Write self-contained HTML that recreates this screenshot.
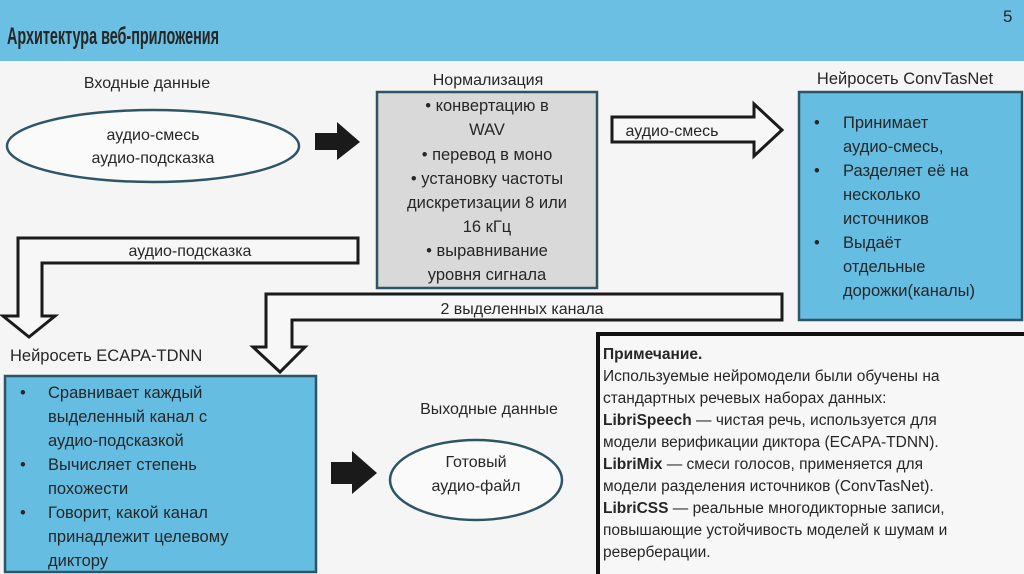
<!DOCTYPE html>
<html><head><meta charset="utf-8"><style>
html,body{margin:0;padding:0;width:1024px;height:574px;overflow:hidden;background:#f5f5f5}
svg{display:block}
text{font-family:"Liberation Sans","DejaVu Sans",sans-serif;fill:#262626}
</style></head><body>
<svg width="1024" height="574" viewBox="0 0 1024 574" xmlns="http://www.w3.org/2000/svg">
<rect x="0" y="0" width="1024" height="574" fill="#f5f5f5"/>
<rect x="0" y="0" width="1024" height="61" fill="#6bbfe3"/>
<text x="7" y="44" font-size="24" font-weight="bold" fill="#333" textLength="212" lengthAdjust="spacingAndGlyphs">Архитектура веб-приложения</text>
<text x="1003" y="22" font-size="17" fill="#333">5</text>

<!-- input -->
<text x="147" y="88" font-size="16" text-anchor="middle">Входные данные</text>
<ellipse cx="153" cy="146" rx="146" ry="36" fill="#fafafa" stroke="#2e5566" stroke-width="2.5"/>
<text x="153" y="140" font-size="16" text-anchor="middle">аудио-смесь</text>
<text x="153" y="163" font-size="16" text-anchor="middle">аудио-подсказка</text>

<!-- black arrow 1 -->
<polygon points="315,133 337,133 337,122 360,142 337,160 337,150 315,150" fill="#1a1a1a"/>

<!-- normalization -->
<text x="488" y="85" font-size="16" text-anchor="middle">Нормализация</text>
<rect x="377" y="92" width="220" height="196" fill="#d9d9d9" stroke="#2e5566" stroke-width="2.5"/>
<g font-size="16.5" text-anchor="middle">
<text x="487" y="111">• конвертацию в</text>
<text x="487" y="135">WAV</text>
<text x="487" y="160">• перевод в моно</text>
<text x="487" y="184">• установку частоты</text>
<text x="487" y="208">дискретизации 8 или</text>
<text x="487" y="232">16 кГц</text>
<text x="487" y="256">• выравнивание</text>
<text x="487" y="280">уровня сигнала</text>
</g>

<!-- hollow arrow audio-mix -->
<polygon points="612,117 754,117 754,104 782,130 754,156 754,142 612,142" fill="#f7f7f7" stroke="#1a1a1a" stroke-width="3"/>
<text x="672" y="136" font-size="16" text-anchor="middle">аудио-смесь</text>

<!-- ConvTasNet -->
<text x="905" y="84" font-size="16.5" text-anchor="middle">Нейросеть ConvTasNet</text>
<rect x="799" y="92" width="223" height="228" fill="#66bde2" stroke="#2e5566" stroke-width="2.5"/>
<g font-size="16.5">
<text x="814" y="128">•</text>
<text x="843" y="128">Принимает</text>
<text x="843" y="152">аудио-смесь,</text>
<text x="814" y="176">•</text>
<text x="843" y="176">Разделяет её на</text>
<text x="843" y="200">несколько</text>
<text x="843" y="224">источников</text>
<text x="814" y="248">•</text>
<text x="843" y="248">Выдаёт</text>
<text x="843" y="272">отдельные</text>
<text x="843" y="296">дорожки(каналы)</text>
</g>

<!-- hollow arrow audio-hint -->
<polygon points="18,238 358,238 358,263 42,263 42,316 55,316 29,337 3,316 18,316" fill="#f7f7f7" stroke="#1a1a1a" stroke-width="3"/>
<text x="190" y="256" font-size="16" text-anchor="middle">аудио-подсказка</text>

<!-- hollow arrow 2 channels -->
<polygon points="266,294 782,294 782,320 292,320 292,347 305,347 280,372 253,347 266,347" fill="#f7f7f7" stroke="#1a1a1a" stroke-width="3"/>
<text x="522" y="314" font-size="16" text-anchor="middle">2 выделенных канала</text>

<!-- ECAPA -->
<text x="10" y="361" font-size="16.5">Нейросеть ECAPA-TDNN</text>
<rect x="5" y="376" width="311" height="196" fill="#66bde2" stroke="#2e5566" stroke-width="2.5"/>
<g font-size="16.5">
<text x="20" y="398">•</text><text x="48" y="398">Сравнивает каждый</text>
<text x="48" y="422">выделенный канал с</text>
<text x="48" y="446">аудио-подсказкой</text>
<text x="20" y="470">•</text><text x="48" y="470">Вычисляет степень</text>
<text x="48" y="494">похожести</text>
<text x="20" y="518">•</text><text x="48" y="518">Говорит, какой канал</text>
<text x="48" y="542">принадлежит целевому</text>
<text x="48" y="566">диктору</text>
</g>

<!-- output -->
<polygon points="331,462 352,462 352,451 377,473 352,494 352,484 331,484" fill="#1a1a1a"/>
<text x="489" y="414" font-size="16" text-anchor="middle">Выходные данные</text>
<ellipse cx="476" cy="480" rx="86" ry="40" fill="#fafafa" stroke="#2e5566" stroke-width="2.5"/>
<text x="476" y="467" font-size="16" text-anchor="middle">Готовый</text>
<text x="476" y="491" font-size="16" text-anchor="middle">аудио-файл</text>

<!-- note -->
<rect x="598" y="334" width="430" height="245" fill="#f7f7f7" stroke="#111" stroke-width="4"/>
<g font-size="15.5">
<text x="603" y="359" font-weight="bold">Примечание.</text>
<text x="603" y="381">Используемые нейромодели были обучены на</text>
<text x="603" y="403">стандартных речевых наборах данных:</text>
<text x="603" y="425"><tspan font-weight="bold">LibriSpeech</tspan> — чистая речь, используется для</text>
<text x="603" y="447">модели верификации диктора (ECAPA-TDNN).</text>
<text x="603" y="469"><tspan font-weight="bold">LibriMix</tspan> — смеси голосов, применяется для</text>
<text x="603" y="491">модели разделения источников (ConvTasNet).</text>
<text x="603" y="513"><tspan font-weight="bold">LibriCSS</tspan> — реальные многодикторные записи,</text>
<text x="603" y="535">повышающие устойчивость моделей к шумам и</text>
<text x="603" y="557">реверберации.</text>
</g>
</svg>
</body></html>
